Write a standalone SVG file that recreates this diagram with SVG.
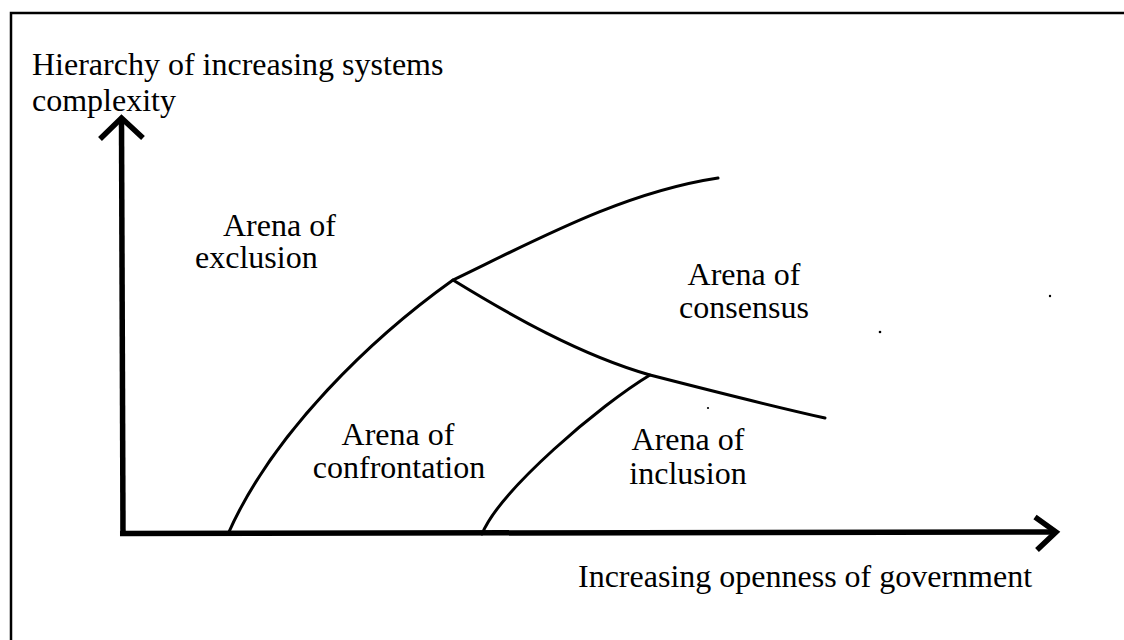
<svg xmlns="http://www.w3.org/2000/svg" width="1124" height="640" viewBox="0 0 1124 640">
  <style>
    .frame { fill: none; stroke: #000; stroke-width: 2.5; }
    .axis { fill: none; stroke: #000; stroke-width: 5.5; stroke-linecap: butt; stroke-linejoin: miter; }
    .curve { fill: none; stroke: #000; stroke-width: 3; stroke-linecap: round; }
    .label { font-family: "Liberation Serif", "Times New Roman", serif; font-size: 32px; fill: #000; }
    .mid { text-anchor: middle; }
  </style>
  <rect width="1124" height="640" fill="#fff"/>
  <!-- outer frame: only top and left edges are drawn -->
  <path class="frame" d="M11,640 V13 H1124"/>

  <g id="connectors">
    <!-- axes -->
    <path class="axis" d="M121.5,119 L123,536"/>
    <path class="axis" d="M100,139 L121.5,118 L143,138"/>
    <path class="axis" d="M120,533.5 L1055,532"/>
    <path class="axis" d="M1035,517 L1056,532 L1037,550"/>
    <!-- arena boundaries -->
    <path class="curve" d="M228,534 C273,432 373,337 453,280 C540,238 625,192 718,178"/>
    <path class="curve" d="M453,280 C510,315 580,355 650,375 C720,393 780,408 825,418"/>
    <path class="curve" d="M482,534 C500,490 600,405 650,375"/>
  </g>

  <g id="axis-y-label">
    <text class="label" x="32" y="75">Hierarchy of increasing systems</text>
    <text class="label" x="32" y="111">complexity</text>
  </g>
  <g id="axis-x-label">
    <text class="label" x="578" y="587">Increasing openness of government</text>
  </g>
  <g id="arena-exclusion">
    <text class="label" x="223" y="236">Arena of</text>
    <text class="label" x="195" y="268">exclusion</text>
  </g>
  <g id="arena-consensus">
    <text class="label mid" x="744" y="285">Arena of</text>
    <text class="label mid" x="744" y="318">consensus</text>
  </g>
  <g id="arena-confrontation">
    <text class="label mid" x="398" y="445">Arena of</text>
    <text class="label mid" x="399" y="478">confrontation</text>
  </g>
  <g id="arena-inclusion">
    <text class="label mid" x="688" y="450">Arena of</text>
    <text class="label mid" x="688" y="484">inclusion</text>
  </g>

  <!-- small specks -->
  <circle cx="880" cy="332" r="1.3" fill="#000"/>
  <circle cx="1050" cy="296" r="1.2" fill="#000"/>
  <circle cx="708" cy="408" r="1.1" fill="#000"/>
</svg>
